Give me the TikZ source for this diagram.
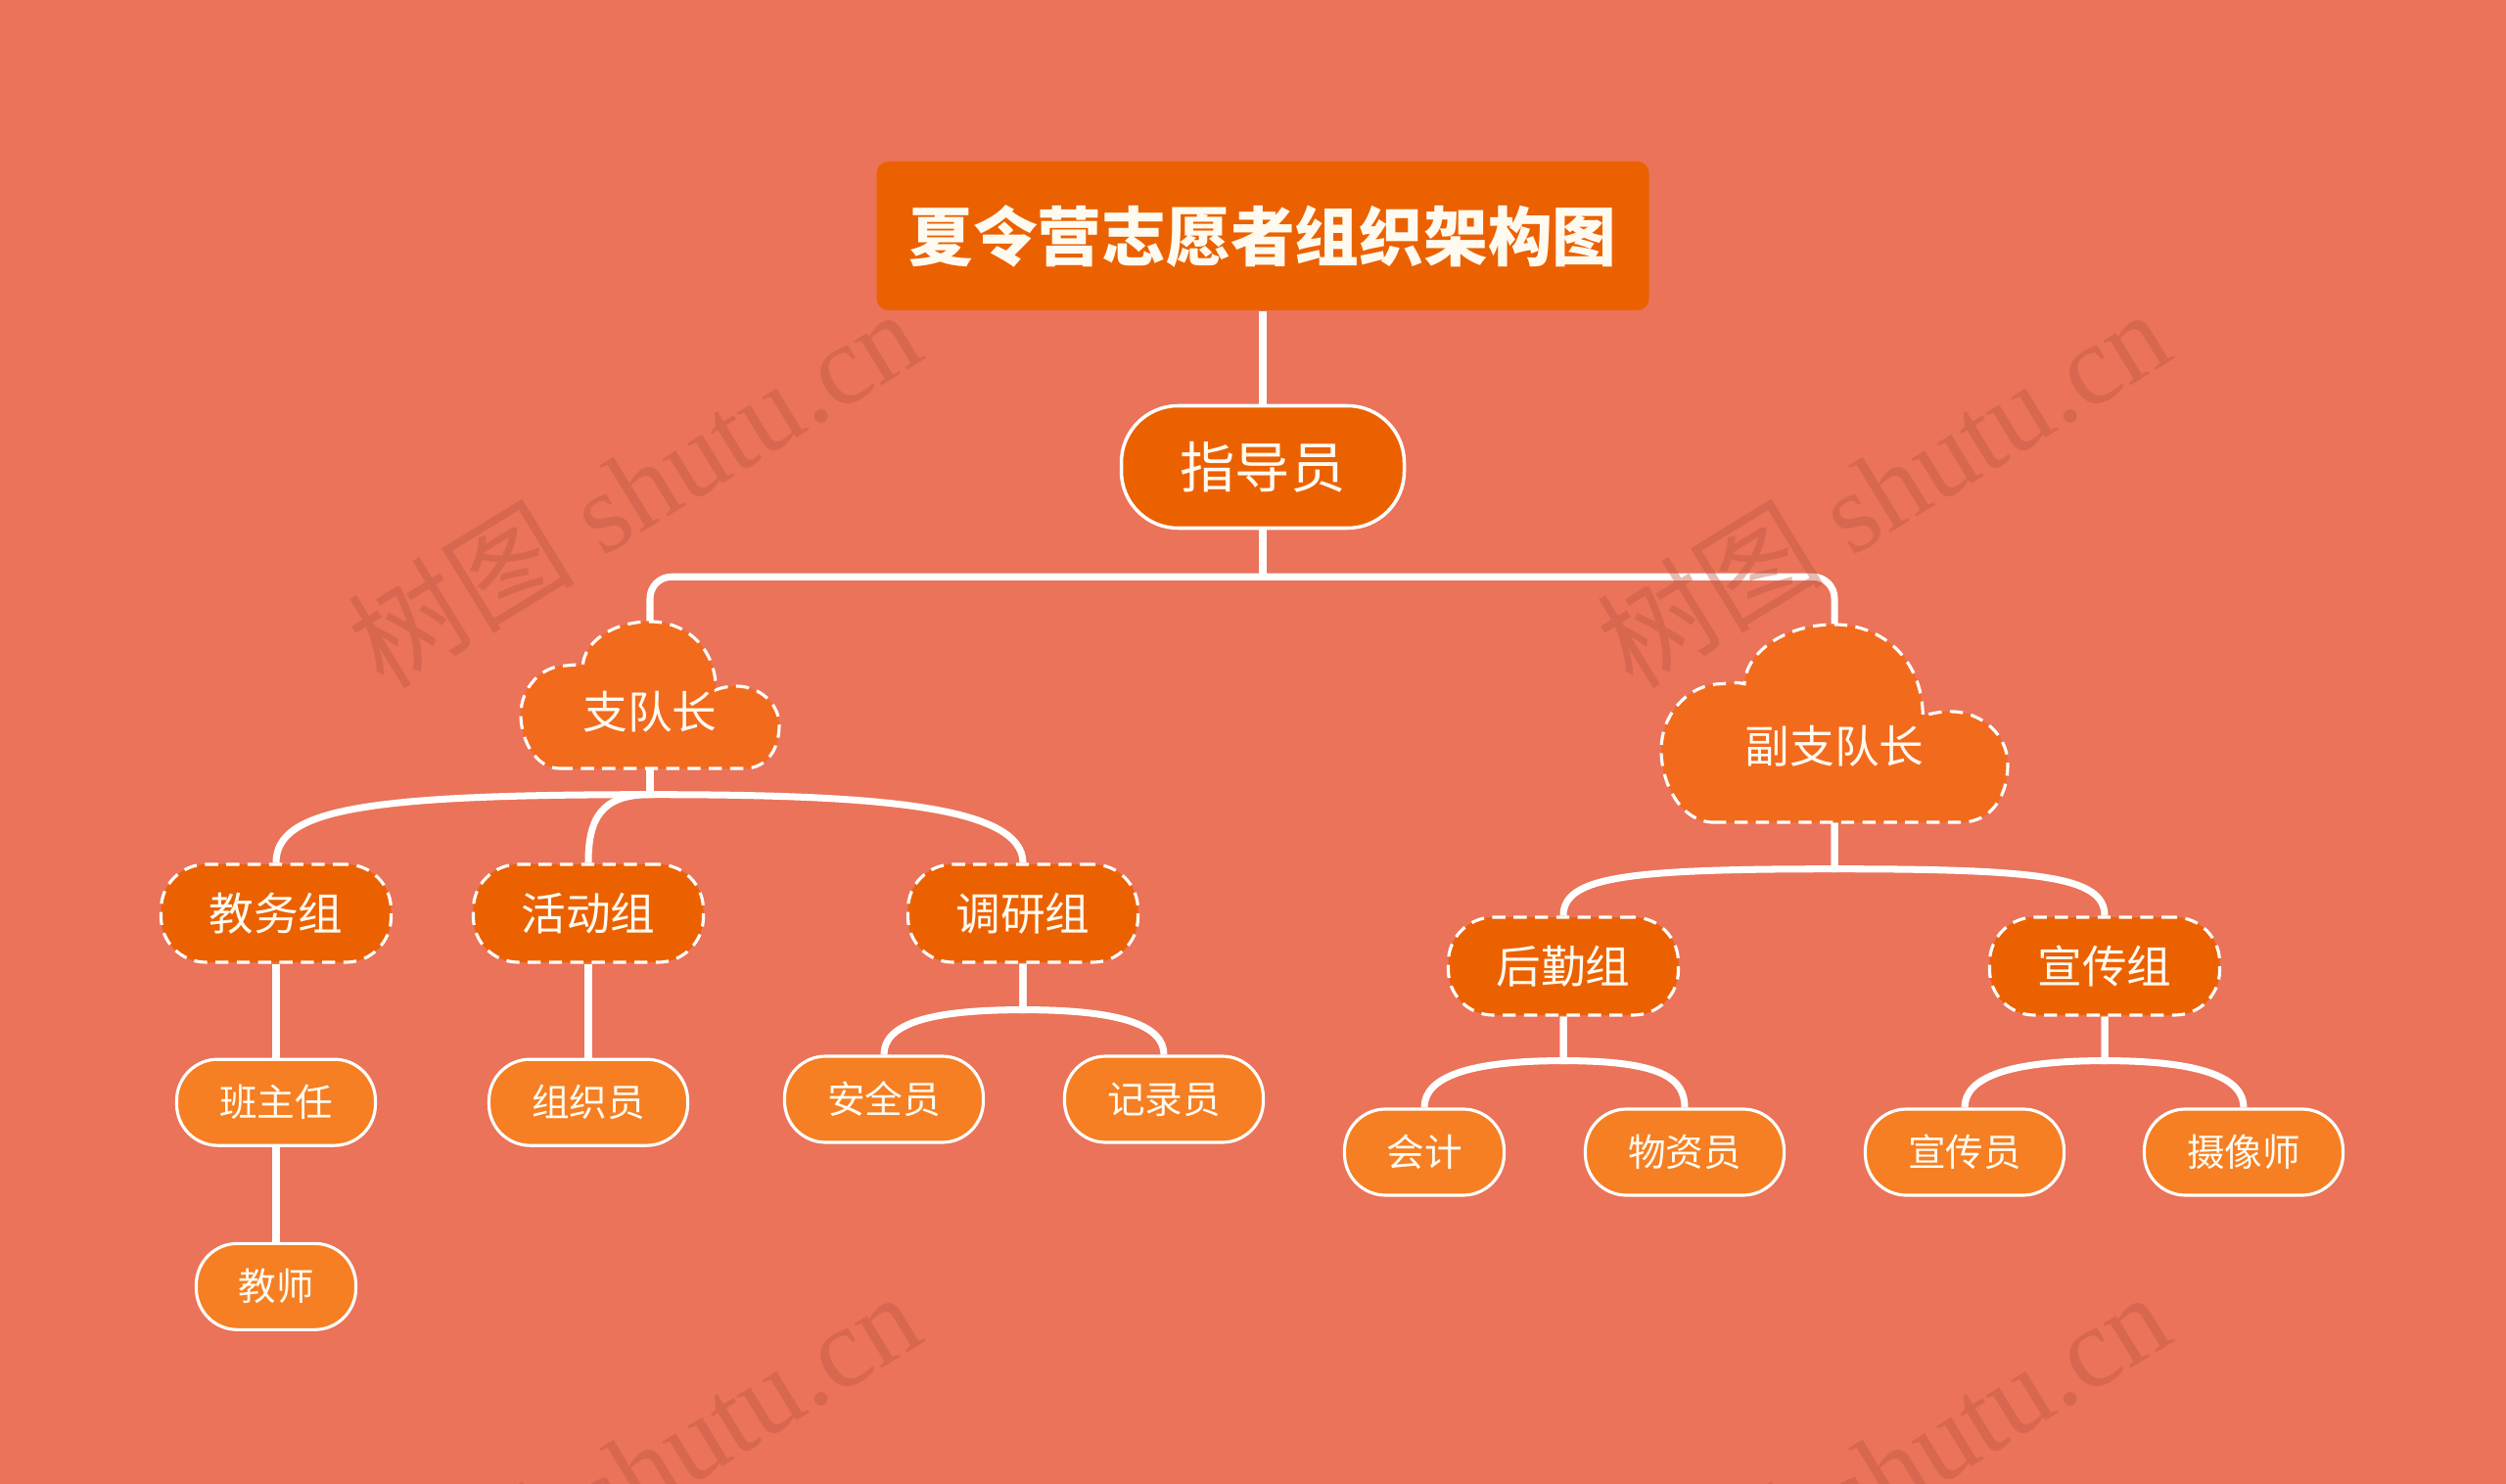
\documentclass[tikz,border=0pt]{standalone}
\usepackage{fontspec}
\usetikzlibrary{positioning}
\newfontfamily\cjk{Noto Sans CJK SC}
\newfontfamily\wmlatin{Liberation Serif}
\definecolor{paper}{HTML}{EA7359}
\definecolor{deep}{HTML}{EB6100}
\definecolor{flame}{HTML}{F26A1C}
\definecolor{amber}{HTML}{F57F22}
\definecolor{ink}{HTML}{FFFAF0}
\definecolor{wine}{HTML}{BD5540}

\tikzset{
  cloudbg/.pic={
    \path[cloudfill] (-0.70,-1) -- (0.73,-1)
      .. controls (0.90,-1) and (1,-0.75) .. (1,-0.41)
      .. controls (1,-0.12) and (0.85,0.12) .. (0.67,0.12)
      .. controls (0.61,0.12) and (0.55,0.10) .. (0.51,0.07)
      .. controls (0.51,0.64) and (0.28,1) .. (0,1)
      .. controls (-0.29,1) and (-0.51,0.72) .. (-0.52,0.40)
      .. controls (-0.56,0.42) and (-0.60,0.41) .. (-0.65,0.40)
      .. controls (-0.84,0.40) and (-1,0.10) .. (-1,-0.27)
      .. controls (-1,-0.62) and (-0.88,-1) .. (-0.70,-1) -- cycle;
  }
}

\begin{document}
\begin{tikzpicture}[
  link/.style={draw=white, line width=2pt},
  titlebox/.style={fill=deep, rounded corners=0.12cm, minimum width=7.89cm, minimum height=1.52cm, text=ink, font=\cjk\bfseries\fontsize{18.7}{22}\selectfont},
  guidebox/.style={fill=deep, draw=white, line width=1pt, rounded corners=0.58cm, minimum width=2.89cm, minimum height=1.25cm, text=ink, font=\cjk\fontsize{16}{19}\selectfont},
  cloudfill/.style={fill=flame, draw=white, line width=0.9pt, dash pattern=on 3.8pt off 2.4pt},
  cloudtext/.style={text=ink, inner sep=0pt, text depth=0pt, font=\cjk\fontsize{13}{15}\selectfont},
  groupbox/.style={fill=deep, draw=white, line width=0.9pt, dash pattern=on 3.8pt off 2.4pt, rounded corners=0.46cm, minimum width=2.35cm, minimum height=1cm, text=ink, font=\cjk\fontsize{13}{15}\selectfont},
  leafbox/.style={fill=amber, draw=white, line width=0.9pt, rounded corners=0.42cm, minimum width=2.03cm, minimum height=0.88cm, text=ink, font=\cjk\fontsize{11}{13}\selectfont},
  wmark/.style={text=wine, text opacity=0.4, rotate=31.5, font=\wmlatin\fontsize{33}{38}\selectfont}
]
\fill[paper] (0,0) rectangle (25.6,-15.16);
\useasboundingbox (0,0) rectangle (25.6,-15.16);

% top
\node[titlebox] (title) at (12.90,-2.41) {夏令营志愿者组织架构图};
\node[guidebox] (guide) at (12.90,-4.77) {指导员};

% clouds
\pic[xscale=1.32, yscale=0.75] at (6.64,-7.10) {cloudbg};
\node[cloudtext, minimum width=2.64cm, minimum height=1.5cm, text height=0.68cm] (leader) at (6.64,-7.10) {支队长};
\pic[xscale=1.77, yscale=1.01] at (18.74,-7.39) {cloudbg};
\node[cloudtext, minimum width=3.54cm, minimum height=2.02cm, text height=0.81cm] (vice) at (18.74,-7.39) {副支队长};

% groups
\node[groupbox] (teach) at (2.82,-9.33) {教务组};
\node[groupbox] (event) at (6.01,-9.33) {活动组};
\node[groupbox] (survey) at (10.45,-9.33) {调研组};
\node[groupbox] (logi) at (15.97,-9.87) {后勤组};
\node[groupbox] (promo) at (21.50,-9.87) {宣传组};

% members
\node[leafbox, below=0.96cm of teach] (head) {班主任};
\node[leafbox, minimum width=1.63cm, below=0.97cm of head] (teacher) {教师};
\node[leafbox, below=0.96cm of event] (organ) {组织员};
\node[leafbox] (safety) at (9.03,-11.23) {安全员};
\node[leafbox] (record) at (11.89,-11.23) {记录员};
\node[leafbox, minimum width=1.63cm] (account) at (14.55,-11.77) {会计};
\node[leafbox] (supply) at (17.21,-11.77) {物资员};
\node[leafbox] (publicist) at (20.07,-11.77) {宣传员};
\node[leafbox] (camera) at (22.92,-11.77) {摄像师};

% links
\draw[link] (title) -- (guide);
\draw[link] (guide.south) -- ++(0,-0.48) coordinate (split);
\draw[link, rounded corners=0.22cm] (split) -| (leader.north);
\draw[link, rounded corners=0.22cm] (split) -| (vice.north);

\draw[link] (leader.south) -- ++(0,-0.26) .. controls +(-2.9,0) and +(0,0.55) .. (teach.north);
\draw[link] (leader.south) -- ++(0,-0.26) .. controls +(-0.5,0) and +(0,0.45) .. (event.north);
\draw[link] (leader.south) -- ++(0,-0.26) .. controls +(2.2,0) and +(0,0.6) .. (survey.north);

\draw[link] (vice.south) -- ++(0,-0.47) .. controls +(-2.1,0) and +(0,0.4) .. (logi.north);
\draw[link] (vice.south) -- ++(0,-0.47) .. controls +(2.1,0) and +(0,0.4) .. (promo.north);

\draw[link] (teach) -- (head);
\draw[link] (head) -- (teacher);
\draw[link] (event) -- (organ);
\draw[link] (survey.south) -- ++(0,-0.47) .. controls +(-1.0,0) and +(0,0.3) .. (safety.north);
\draw[link] (survey.south) -- ++(0,-0.47) .. controls +(1.0,0) and +(0,0.3) .. (record.north);
\draw[link] (logi.south) -- ++(0,-0.45) .. controls +(-1.0,0) and +(0,0.3) .. (account.north);
\draw[link] (logi.south) -- ++(0,-0.45) .. controls +(1.0,0) and +(0,0.3) .. (supply.north);
\draw[link] (promo.south) -- ++(0,-0.45) .. controls +(-1.0,0) and +(0,0.3) .. (publicist.north);
\draw[link] (promo.south) -- ++(0,-0.45) .. controls +(1.0,0) and +(0,0.3) .. (camera.north);

% watermark
\foreach \wx/\wy [count=\k] in {6.47/-4.98, 19.23/-4.98, 6.47/-15.02, 19.23/-15.02}
  \node[wmark] (wm\k) at (\wx,\wy) {{\cjk 树图} shutu.cn};
\end{tikzpicture}
\end{document}
